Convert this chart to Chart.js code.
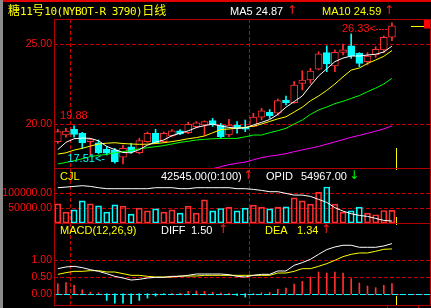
<!DOCTYPE html>
<html><head><meta charset="utf-8">
<script src="https://cdn.jsdelivr.net/npm/chart.js@4.4.1/dist/chart.umd.min.js"></script>
<style>
html,body{margin:0;padding:0;background:#000;}
body{width:431px;height:308px;overflow:hidden;position:relative;}
canvas{position:absolute;left:0;}
.t{position:absolute;white-space:nowrap;font-family:"Liberation Sans",Arial,sans-serif;font-size:11px;line-height:12px;}
.ar{font-family:"DejaVu Sans",sans-serif;font-size:12px;}
.cj{font-family:"Noto Sans CJK SC",sans-serif;font-size:12px;}
.as{font-family:"DejaVu Sans Mono",monospace;font-size:11px;letter-spacing:-0.5px;}
#strip{position:absolute;left:0;top:0;width:3px;height:308px;background:#8c8c8c;}
#topline{position:absolute;left:0;top:0;width:431px;height:2px;background:#e00000;}
</style></head><body>
<canvas id="cMain" width="431" height="173" style="top:7px"></canvas>
<canvas id="cVol" width="431" height="79" style="top:156px"></canvas>
<canvas id="cMacd" width="431" height="106" style="top:211px"></canvas>
<div id="topline"></div><div id="strip"></div>
<div class="t" style="left:8px;top:2px;color:#ffff00;line-height:15px"><span class="cj">糖</span><span class="as">11</span><span class="cj">号</span><span class="as">10(NYBOT-R 3790)</span><span class="cj">日线</span></div>
<div class="t" id="hMa5" style="left:230px;top:5px;color:#fff"></div>
<div class="t ar" style="left:287px;top:4px;color:#ff2020">↑</div>
<div class="t" id="hMa10" style="left:322px;top:5px;color:#ffff00"></div>
<div class="t ar" style="left:384px;top:4px;color:#ff2020">↑</div>
<div class="t" style="left:60px;top:170px;color:#ffff00">CJL</div>
<div class="t" id="hVol" style="left:161px;top:170px;color:#fff"></div>
<div class="t ar" style="left:243px;top:169px;color:#ff2020">↑</div>
<div class="t" style="left:266px;top:170px;color:#fff">OPID</div>
<div class="t" id="hOi" style="left:301px;top:170px;color:#fff"></div>
<div class="t ar" style="left:349px;top:169px;color:#00ff00">↓</div>
<div class="t" style="left:60px;top:224px;color:#ffff00">MACD(12,26,9)</div>
<div class="t" style="left:161px;top:224px;color:#fff">DIFF</div>
<div class="t" id="hDiff" style="left:191px;top:224px;color:#fff"></div>
<div class="t ar" style="left:218px;top:223px;color:#ff2020">↑</div>
<div class="t" style="left:265px;top:224px;color:#ffff00">DEA</div>
<div class="t" id="hDea" style="left:297px;top:224px;color:#ffff00"></div>
<div class="t ar" style="left:321px;top:223px;color:#ff2020">↑</div>
<script>
// ---------- data ----------
const opens  = [18.90,19.31,19.67,19.42,18.90,18.83,18.42,18.38,17.92,18.58,18.21,18.90,19.42,18.90,19.25,19.58,19.46,19.83,19.94,20.21,19.94,19.31,19.94,19.79,19.85,20.42,20.73,20.67,21.50,21.33,22.54,22.75,23.42,24.46,23.63,24.48,24.88,24.42,23.90,24.31,24.63,25.42];
const highs  = [19.67,19.73,19.88,19.48,19.10,19.00,18.58,18.48,18.69,18.79,19.10,19.50,19.67,19.50,19.65,19.65,20.10,20.15,20.20,20.35,20.04,20.29,20.15,20.25,20.67,20.98,20.90,21.55,21.75,22.65,23.33,23.48,24.52,24.88,24.63,25.00,25.63,24.46,24.46,24.83,25.50,26.33];
const lows   = [18.79,19.17,19.17,18.48,18.05,18.13,18.06,17.55,17.51,18.17,18.13,18.85,18.80,18.85,19.20,19.33,19.40,19.75,19.30,19.85,19.10,19.21,19.42,19.52,19.83,20.25,20.35,20.55,21.19,21.30,22.13,22.54,23.38,23.27,23.27,24.31,24.10,23.58,23.69,24.17,24.46,25.21];
const closes = [19.52,19.56,19.35,18.83,19.02,18.21,18.17,17.65,18.48,18.27,18.96,19.42,18.83,19.42,19.58,19.38,19.98,20.08,20.15,19.94,19.21,19.94,19.73,19.67,20.44,20.83,20.52,21.46,21.33,22.44,22.75,23.31,24.38,23.75,24.48,24.63,24.25,23.79,24.25,24.67,25.42,26.13];
const ma5  = [18.40,18.85,19.08,19.12,19.10,18.95,18.60,18.40,18.22,18.20,18.40,18.68,18.87,19.00,19.27,19.42,19.57,19.78,19.90,20.00,19.87,19.79,19.73,19.76,19.94,20.10,20.28,20.60,21.05,21.40,21.75,22.40,23.00,23.45,23.90,24.12,24.25,24.25,24.31,24.36,24.50,24.87];
const ma10 = [18.12,18.20,18.37,18.48,18.62,18.75,18.80,18.83,18.78,18.75,18.73,18.74,18.78,18.83,18.90,18.98,19.08,19.15,19.25,19.45,19.65,19.69,19.74,19.79,19.86,20.00,20.16,20.32,20.45,20.75,21.05,21.45,21.75,22.10,22.50,22.95,23.37,23.50,23.78,24.00,24.23,24.59];
const ma20 = [17.50,17.60,17.70,17.83,17.96,18.04,18.10,18.20,18.27,18.35,18.45,18.52,18.58,18.65,18.75,18.85,18.92,19.00,19.04,19.08,19.10,19.10,19.10,19.20,19.31,19.31,19.46,19.58,19.73,20.00,20.25,20.60,20.88,21.06,21.27,21.42,21.60,21.78,22.02,22.24,22.50,22.85];
const ma60 = [null,null,null,null,null,null,null,null,null,null,null,null,null,null,null,null,null,null,null,17.20,17.33,17.46,17.55,17.62,17.76,17.90,17.99,18.06,18.15,18.27,18.38,18.49,18.60,18.74,18.88,19.02,19.17,19.29,19.42,19.55,19.70,19.88];
const volume = [64300,36700,44300,74300,64300,57700,36700,61000,56700,30000,50000,41000,47700,36700,44300,33300,56700,33300,77700,41000,48700,53300,41000,50000,60000,53300,47700,53300,54300,84300,74300,63300,103300,121000,63300,36700,41000,53300,33300,27700,42000,42545];
const openInterest = [155000,156800,158900,161000,158900,155000,152000,152000,152000,152000,152000,152000,155000,155000,155000,152000,152000,155000,155000,155000,155000,155000,152000,152000,149900,146900,143000,143000,137900,132800,132800,128900,119900,110900,95000,84800,77000,71900,68900,62900,56900,54967];
const diff = [0.75,0.80,0.82,0.78,0.72,0.67,0.60,0.52,0.47,0.41,0.43,0.47,0.49,0.49,0.52,0.52,0.55,0.59,0.59,0.59,0.59,0.57,0.52,0.50,0.55,0.58,0.58,0.68,0.68,0.85,0.93,1.03,1.18,1.32,1.40,1.45,1.45,1.39,1.39,1.39,1.43,1.50];
const dea  = [0.58,0.63,0.67,0.67,0.69,0.69,0.65,0.65,0.60,0.55,0.55,0.52,0.50,0.50,0.50,0.53,0.53,0.53,0.55,0.55,0.55,0.55,0.55,0.55,0.55,0.55,0.55,0.62,0.62,0.67,0.75,0.75,0.82,0.90,1.00,1.11,1.18,1.22,1.22,1.27,1.33,1.34];
const macdHist = [0.30,0.33,0.25,0.12,0.05,0.03,-0.20,-0.28,-0.28,-0.30,-0.20,-0.13,-0.07,-0.02,0.01,0.02,0.07,0.08,0.07,0.05,0.02,0.01,-0.05,-0.10,-0.02,0.03,0.04,0.13,0.17,0.29,0.37,0.50,0.65,0.62,0.65,0.62,0.45,0.32,0.23,0.18,0.25,0.30];
const priceTicks = [20, 25];
const volumeTicks = [50000, 100000];
const macdTicks = [0, 0.5, 1];
const monthBreaks = [1.5, 23.5];

// ---------- styling ----------
const N = closes.length;
const RED = '#ff3030', CYAN = '#00ffff', YEL = '#ffff00', GRN = '#00ff00', MAG = '#ff00ff', WHT = '#ffffff';
const GRID = '#c80000', FRAME = '#b00000', TXT = '#ff1010';
const X_MIN = -0.466, X_MAX = 45.67;
const AXIS_FONT = {family: '"Liberation Sans",Arial,sans-serif', size: 10.5};
const up = closes.map((c, i) => c >= opens[i]);
const upColor = up.map(u => u ? RED : CYAN);
const pts = arr => arr.map((v, i) => ({x: i, y: v}));

document.getElementById('hMa5').textContent = 'MA5 ' + ma5[N-1].toFixed(2);
document.getElementById('hMa10').textContent = 'MA10 ' + ma10[N-1].toFixed(2);
document.getElementById('hVol').textContent = volume[N-1].toFixed(2) + '(0:100)';
document.getElementById('hOi').textContent = openInterest[N-1].toFixed(2);
document.getElementById('hDiff').textContent = diff[N-1].toFixed(2);
document.getElementById('hDea').textContent = dea[N-1].toFixed(2);

function hline(ctx, x1, x2, y) { ctx.beginPath(); ctx.moveTo(x1, y); ctx.lineTo(x2, y); ctx.stroke(); }
function vline(ctx, x, y1, y2) { ctx.beginPath(); ctx.moveTo(x, y1); ctx.lineTo(x, y2); ctx.stroke(); }

const deco = {
  id: 'deco',
  beforeDatasetsDraw(chart, args, o) {
    const {ctx, chartArea: a} = chart; const xs = chart.scales.x, ys = chart.scales.y;
    ctx.save(); ctx.lineWidth = 1; ctx.strokeStyle = GRID; ctx.setLineDash([4, 2]);
    o.hTicks.forEach(v => hline(ctx, a.left, a.right, Math.round(ys.getPixelForValue(v)) + 0.5));
    monthBreaks.forEach(v => vline(ctx, Math.round(xs.getPixelForValue(v)) + 0.5, a.top, a.bottom));
    if (o.zeroLine) {
      ctx.strokeStyle = CYAN; ctx.setLineDash([6, 2]);
      hline(ctx, a.left + 2, a.right, Math.round(ys.getPixelForValue(0)) + 0.5);
    }
    ctx.restore();
  },
  afterDatasetsDraw(chart, args, o) {
    const {ctx, chartArea: a} = chart;
    ctx.save(); ctx.lineWidth = 1; ctx.setLineDash([]);
    if (o.extra) o.extra(chart);
    ctx.strokeStyle = FRAME; ctx.setLineDash([]); ctx.lineWidth = 1;
    hline(ctx, a.left, a.right + 1, a.top + 0.5);
    if (o.bottomLine) hline(ctx, a.left, a.right + 1, a.bottom + 0.5);
    vline(ctx, a.left + 0.5, a.top, a.bottom + 1);
    vline(ctx, a.right + 0.5, a.top, a.bottom + 1);
    ctx.restore();
  }
};
Chart.register(deco);

function opts(yMin, yMax, ticks, decoOpts, extraScales) {
  return {
    responsive: false, animation: false, devicePixelRatio: 1, events: [],
    layout: {padding: {left: 0, right: 1, top: 12, bottom: 12}},
    plugins: {legend: {display: false}, tooltip: {enabled: false}, deco: decoOpts},
    scales: Object.assign({
      x: {type: 'linear', min: X_MIN, max: X_MAX, display: false, offset: false},
      y: {type: 'linear', position: 'left', min: yMin, max: yMax,
          afterFit: s => { s.width = 54; },
          afterBuildTicks: s => { s.ticks = ticks.map(v => ({value: v})); },
          grid: {display: false, drawTicks: false, tickLength: 0}, border: {display: false},
          ticks: {color: TXT, padding: 2, font: AXIS_FONT, autoSkip: false, callback: v => Number(v).toFixed(2)}}
    }, extraScales || {})
  };
}
const lineDs = (arr, color, axis) => ({type: 'line', data: pts(arr), borderColor: color, borderWidth: 1,
  pointRadius: 0, tension: 0, fill: false, yAxisID: axis || 'y', spanGaps: false});

function yellowCursor(chart, fromTop, fromBottom) {
  const {ctx, chartArea: a} = chart; const x = Math.round(chart.scales.x.getPixelForValue(N - 0.5)) + 0.5;
  ctx.strokeStyle = YEL;
  if (fromTop) vline(ctx, x, a.top, a.top + fromTop);
  if (fromBottom) vline(ctx, x, a.bottom - fromBottom, a.bottom);
}

// ---------- main price panel ----------
new Chart(document.getElementById('cMain'), {
  type: 'bar',
  data: {datasets: [
    lineDs(ma5, WHT), lineDs(ma10, YEL), lineDs(ma20, GRN), lineDs(ma60, MAG),
    {type: 'bar', data: opens.map((o, i) => ({x: i, y: [o, closes[i]]})), grouped: false, barThickness: 7,
     backgroundColor: up.map(u => u ? '#000000' : CYAN), borderColor: upColor, borderWidth: 1, borderSkipped: false},
    {type: 'bar', data: lows.map((l, i) => ({x: i, y: [l, highs[i]]})), grouped: false, barThickness: 1,
     backgroundColor: upColor, borderWidth: 0}
  ]},
  options: opts(17.25, 26.5625, priceTicks, {hTicks: priceTicks, extra(chart) {
    const {ctx, chartArea: a} = chart; const xs = chart.scales.x, ys = chart.scales.y;
    ctx.font = '11px "Liberation Sans", Arial, sans-serif'; ctx.textBaseline = 'middle';
    ctx.fillStyle = TXT; ctx.textAlign = 'left';
    ctx.fillText(highs[2].toFixed(2), xs.getPixelForValue(2) - 14, ys.getPixelForValue(highs[2]) - 9.5);
    let hi = 0, lo = 0;
    highs.forEach((v, i) => { if (v > highs[hi]) hi = i; });
    lows.forEach((v, i) => { if (v < lows[lo]) lo = i; });
    const xh = xs.getPixelForValue(hi), yh = Math.round(ys.getPixelForValue(highs[hi]) + 6.5);
    ctx.textAlign = 'right'; ctx.fillStyle = TXT;
    ctx.fillText(highs[hi].toFixed(2) + '<', xh - 16, yh);
    ctx.strokeStyle = TXT; ctx.setLineDash([2, 1]); hline(ctx, xh - 16, xh - 3, yh + 0.5); ctx.setLineDash([]);
    const xl = xs.getPixelForValue(lo), yl = ys.getPixelForValue(lows[lo]) - 4.5;
    ctx.fillStyle = CYAN; ctx.fillText(lows[lo].toFixed(2) + '<-', xl - 18, yl);
    const yc = Math.round(ys.getPixelForValue(closes[N - 1])) + 0.5;
    ctx.strokeStyle = YEL; hline(ctx, a.right - 19, a.right - 6, yc);
    ctx.fillStyle = '#ff0000'; ctx.fillRect(a.right - 6, a.top, 6, yc + 2 - a.top);
    yellowCursor(chart, 0, 20);
  }})
});

// ---------- volume / open interest panel ----------
new Chart(document.getElementById('cVol'), {
  type: 'bar',
  data: {datasets: [
    lineDs(openInterest, WHT, 'yOi'),
    {type: 'bar', data: pts(volume), grouped: false, barThickness: 6, backgroundColor: 'rgba(0,0,0,0)',
     borderColor: upColor, borderWidth: 1, borderSkipped: false}
  ]},
  options: opts(0, 185000, volumeTicks, {hTicks: volumeTicks, extra(chart) { yellowCursor(chart, 2, 6); }},
    {yOi: {type: 'linear', position: 'right', min: 49100, max: 214100, display: false}})
});

// ---------- MACD panel ----------
new Chart(document.getElementById('cMacd'), {
  type: 'bar',
  data: {datasets: [
    lineDs(diff, WHT), lineDs(dea, YEL),
    {type: 'bar', data: pts(macdHist), grouped: false, barThickness: 1, borderWidth: 0,
     backgroundColor: macdHist.map(v => v >= 0 ? RED : CYAN)}
  ]},
  options: opts(-0.338, 2.117, macdTicks, {hTicks: macdTicks, zeroLine: true, bottomLine: true, extra(chart) {
    const {ctx, chartArea: a} = chart;
    yellowCursor(chart, 2, 9);
    ctx.strokeStyle = FRAME;
    const xb = Math.round(chart.scales.x.getPixelForValue(N - 1.6)) + 0.5;
    ctx.strokeRect(xb, a.bottom + 0.5, 31, 8);
  }})
});
</script>
</body></html>
